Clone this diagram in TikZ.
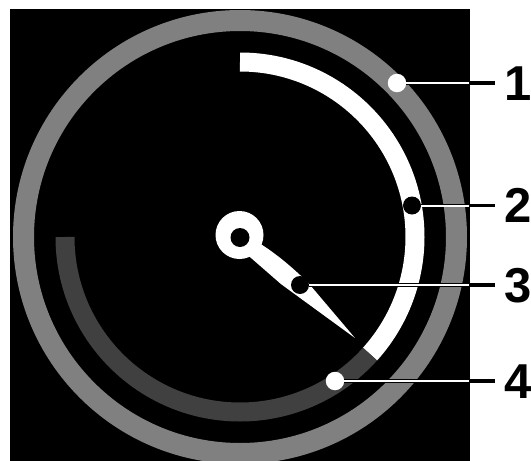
\documentclass[tikz,border=0pt]{standalone}
\usepackage{fontspec}
\setmainfont{Liberation Sans}
\definecolor{ringgray}{gray}{0.5}
\definecolor{arcdark}{gray}{0.25}
\begin{document}
\begin{tikzpicture}[x=1pt,y=1pt,
  lbl/.style={font=\fontsize{49}{49}\selectfont\bfseries, inner sep=0pt, anchor=base},
  lead/.style={line width=3.5pt, draw=black},
  leadcore/.style={line width=2pt, draw=white},
  dotw/.style={circle, fill=white, minimum size=18.5pt, inner sep=0pt},
  dotb/.style={circle, fill=black, minimum size=18pt, inner sep=0pt},
  ring/.style={draw=ringgray, line width=21pt},
  arcwhite/.style={draw=white, line width=19pt},
  arcgray/.style={draw=arcdark, line width=19pt},
]
\useasboundingbox (0,0) rectangle (531,-461);
\fill[white] (0,0) rectangle (531,-461);
\fill[black] (10,-9) rectangle (470,-461);
\coordinate (c) at (240,-237);
% outer ring
\draw[ring] (c) circle[radius=216.5];
% arcs
\draw[arcwhite] ([shift={(90:175)}]c) arc[start angle=90, end angle=-42, radius=175];
\draw[arcgray] ([shift={(180:175)}]c) arc[start angle=180, end angle=318, radius=175];
% knob and needle
\fill[white] (239.5,-235) circle[radius=24];
\begin{scope}[shift={(240,-237)}, rotate=-41.3]
  \fill[white] (15,-8.5) -- (62,-8.3) -- (153,0) -- (82,10.5)
    .. controls (62,11.8) and (38,11.5) .. (18,8) -- cycle;
\end{scope}
\fill[black] (240,-237.5) circle[radius=9.5];
% callout dots
\node[dotw] (d1) at (397,-83) {};
\node[dotb] (d2) at (412,-205.5) {};
\node[dotb] (d3) at (300,-285) {};
\node[dotw] (d4) at (335,-381) {};
% connector ends
\coordinate (e1) at (495,-83);
\coordinate (e2) at (495,-205.5);
\coordinate (e3) at (495,-285);
\coordinate (e4) at (495,-381);
\coordinate (b1) at (469,-83);
\coordinate (b2) at (469,-205.5);
\coordinate (b3) at (469,-285);
\coordinate (b4) at (469,-381);
\foreach \i in {1,2,3,4}{
  \draw[lead] (d\i) -- (e\i);
  \draw[leadcore] (d\i) -- (b\i);
}
% labels
\node[lbl] (l1) at (518,-100.5) {1};
\node[lbl] (l2) at (518,-222) {2};
\node[lbl] (l3) at (518,-302) {3};
\node[lbl] (l4) at (518,-398) {4};
\end{tikzpicture}
\end{document}
